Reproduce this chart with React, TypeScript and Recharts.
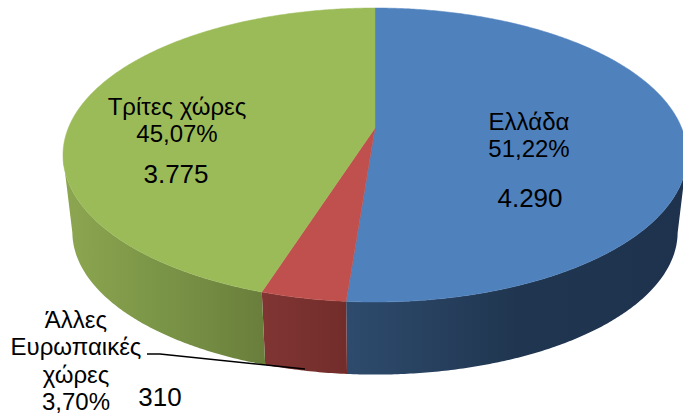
import { Pie, PieChart } from "recharts";

const CATEGORIES = ["Ελλάδα", "Άλλες Ευρωπαικές χώρες", "Τρίτες χώρες"];
const VALUES = [4290, 310, 3775];
const PERCENT_LABELS = ["51,22%", "3,70%", "45,07%"];
const VALUE_LABELS = ["4.290", "310", "3.775"];

const TOP_COLORS = ["#4F81BD", "#C0504D", "#9BBB59"];
/** Side wall shading, left → right, one gradient per slice. */
const WALL_STOPS = [
  [["0%", "#2E4B6D"], ["50%", "#203650"], ["100%", "#1E324D"]],
  [["0%", "#803533"], ["100%", "#722D2B"]],
  [["0%", "#8CA650"], ["50%", "#7A9447"], ["100%", "#697E3B"]],
];

/** Hand placed text blocks per slice: x centre and one baseline per line. */
const NAME_LINES = [["Ελλάδα"], ["Άλλες", "Ευρωπαικές", "χώρες"], ["Τρίτες χώρες"]];
const TEXT_X = [529, 76, 177];
const TEXT_Y = [
  [130, 157],
  [328, 355, 383, 410],
  [115, 142],
];
const VALUE_X = [530, 160, 176];
const VALUE_Y = [207, 406, 183];
const LEADER = "147,354 160,354 305,369";

const WIDTH = 683;
const HEIGHT = 416;

// The disc is a circle seen in perspective: these fix where the far edge,
// the middle and the near edge of the circle land on screen.
const CX = 375;
const APEX_Y = 128;
const FAR_Y = 8;
const NEAR_Y = 302;
const HALF_WIDTH = 312;
const WALL_DROP = 77;
const WALL_SCALE = 0.97;

const C = (FAR_Y + NEAR_Y - 2 * APEX_Y) / (FAR_Y - NEAR_Y);
const A = APEX_Y - FAR_Y + FAR_Y * C;
const D = HALF_WIDTH * Math.sqrt(1 - C * C);
const WIDEST_Y = (A * -C + APEX_Y) / (1 - C * C);

/** Screen position of a Recharts angle on the rim of the disc. */
function rim(angle: number) {
  const rad = ((90 - angle) * Math.PI) / 180;
  const u = Math.sin(rad);
  const v = -Math.cos(rad);
  const w = 1 + C * v;
  return { x: CX + (D * u) / w, y: (A * v + APEX_Y) / w, v };
}

function lower(p: { x: number; y: number }) {
  return {
    x: CX + WALL_SCALE * (p.x - CX),
    y: WIDEST_Y + WALL_DROP + WALL_SCALE * (p.y - WIDEST_Y),
  };
}

function sampleRim(startAngle: number, endAngle: number) {
  const steps = Math.max(2, Math.ceil(Math.abs(endAngle - startAngle) * 2));
  const points = [];
  for (let i = 0; i <= steps; i++) {
    points.push(rim(startAngle + ((endAngle - startAngle) * i) / steps));
  }
  return points;
}

function toPath(points: { x: number; y: number }[]) {
  return points.map((p, i) => `${i ? "L" : "M"}${p.x.toFixed(2)},${p.y.toFixed(2)}`).join(" ") + " Z";
}

function TopFace(props: any) {
  const { startAngle, endAngle, index } = props;
  const points = [{ x: CX, y: APEX_Y }, ...sampleRim(startAngle, endAngle)];
  const fill = TOP_COLORS[index];
  return <path d={toPath(points)} fill={fill} stroke={fill} strokeWidth={0.5} />;
}

function WallFace(props: any) {
  const { startAngle, endAngle, index } = props;
  // only the part of the rim in front of the widest point shows a wall
  const front = sampleRim(startAngle, endAngle).filter((p) => p.v >= -C);
  if (front.length < 2) return null;
  const points = [...front, ...front.map(lower).reverse()];
  const xs = points.map((p) => p.x);
  return (
    <g>
      <defs>
        <linearGradient
          id={`wall-${index}`}
          gradientUnits="userSpaceOnUse"
          x1={Math.min(...xs)}
          x2={Math.max(...xs)}
          y1={0}
          y2={0}
        >
          {WALL_STOPS[index].map(([offset, color]) => (
            <stop key={offset} offset={offset} stopColor={color} />
          ))}
        </linearGradient>
      </defs>
      <path d={toPath(points)} fill={`url(#wall-${index})`} />
    </g>
  );
}

function SliceLabel(props: any) {
  const { index } = props;
  const lines = [...NAME_LINES[index], PERCENT_LABELS[index]];
  return (
    <g>
      {index === 1 && <polyline points={LEADER} fill="none" stroke="#000" strokeWidth={1.5} />}
      {lines.map((line, i) => (
        <text key={i} x={TEXT_X[index]} y={TEXT_Y[index][i]} textAnchor="middle" fontSize={24} fill="#000">
          {line}
        </text>
      ))}
      <text x={VALUE_X[index]} y={VALUE_Y[index]} textAnchor="middle" fontSize={26} fill="#000">
        {VALUE_LABELS[index]}
      </text>
    </g>
  );
}

export default function App() {
  const data = CATEGORIES.map((name, i) => ({ name, value: VALUES[i] }));
  const pieProps = {
    data,
    dataKey: "value",
    cx: CX,
    cy: APEX_Y,
    outerRadius: 100,
    startAngle: 90,
    endAngle: -270,
    stroke: "none",
    isAnimationActive: false,
    rootTabIndex: -1,
  };

  return (
    <div style={{ position: "absolute", left: 0, top: 0, width: WIDTH, height: HEIGHT, overflow: "hidden" }}>
      <PieChart
        width={WIDTH}
        height={HEIGHT}
        margin={{ top: 0, right: 0, bottom: 0, left: 0 }}
        style={{ fontFamily: "'Liberation Sans', Arial, sans-serif" }}
      >
        <Pie {...pieProps} shape={WallFace} />
        <Pie {...pieProps} shape={TopFace} label={SliceLabel} labelLine={false} />
      </PieChart>
    </div>
  );
}
